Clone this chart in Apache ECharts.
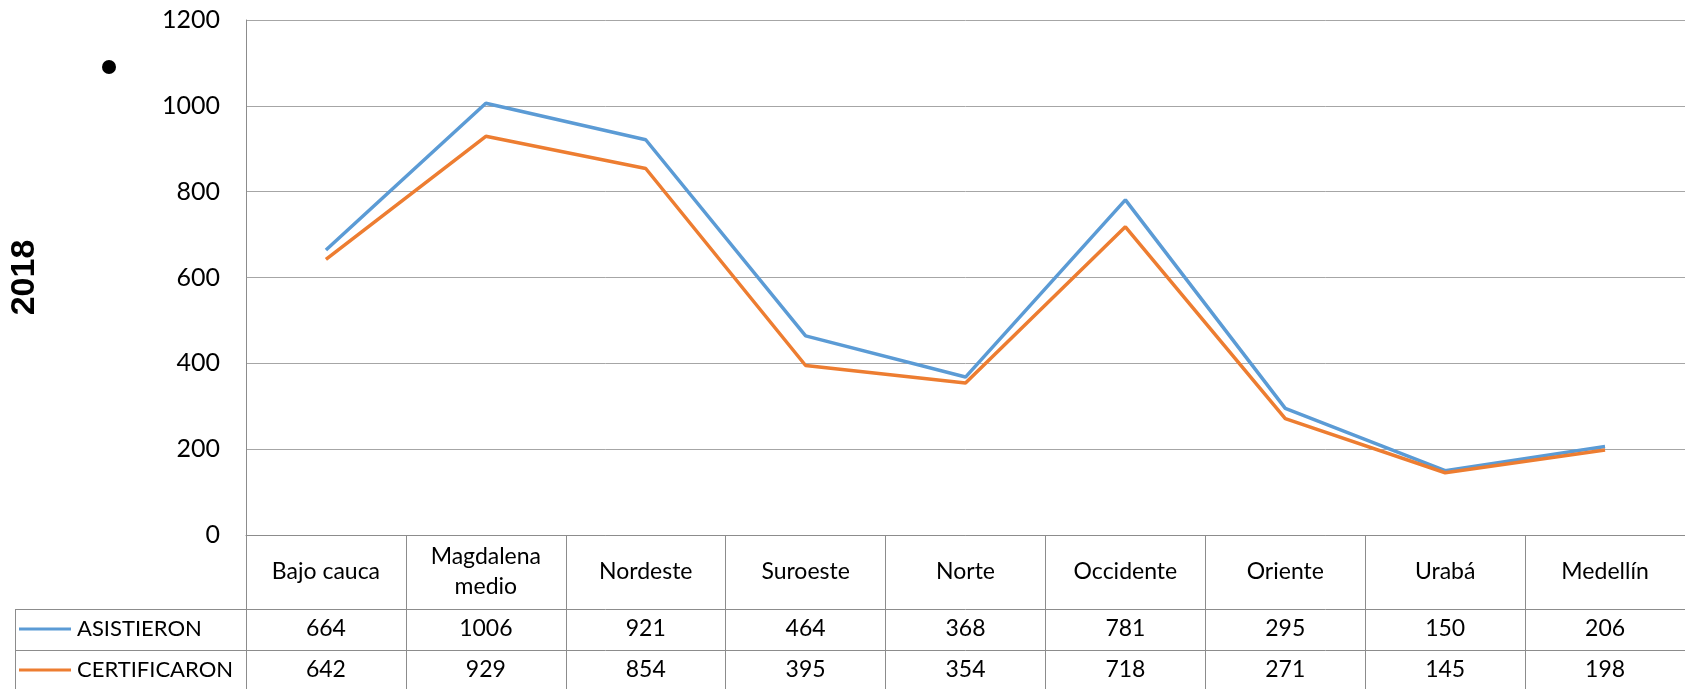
<!DOCTYPE html>
<html>
<head>
    <meta charset="UTF-8">
    <title>2018</title>
    <style type="text/css">
        html, body { margin: 0; padding: 0; background: #fff; }
        #main1 { width: 1685px; height: 689px; }
    </style>
</head>
<body>
<div id="main1"></div>
<script type="text/javascript" src="https://cdn.jsdelivr.net/npm/echarts@6/dist/echarts.min.js"></script>
<script type="text/javascript">
    // datos de la tabla
    var categories = ['Bajo cauca', 'Magdalena\nmedio', 'Nordeste', 'Suroeste', 'Norte', 'Occidente', 'Oriente', 'Urabá', 'Medellín'];
    var asistieron = [664, 1006, 921, 464, 368, 781, 295, 150, 206];
    var certificaron = [642, 929, 854, 395, 354, 718, 271, 145, 198];
    var yMin = 0, yMax = 1200, yStep = 200;

    var gris = '#8c8c8c';
    var fuente = 'Lato';

    var myChart1 = echarts.init(document.getElementById('main1'));
    var option1 = {
        animation: false,
        grid: {left: 246, top: 20, bottom: 154, right: -13},
        legend: [
            {data: ['ASISTIERON'], left: 19, top: 618, padding: 0, icon: 'rect', itemWidth: 52, itemHeight: 3,
                selectedMode: false, textStyle: {fontSize: 22, lineHeight: 22, color: '#000', fontFamily: fuente, padding: [0, 0, 0, 1]}},
            {data: ['CERTIFICARON'], left: 19, top: 659, padding: 0, icon: 'rect', itemWidth: 52, itemHeight: 3,
                selectedMode: false, textStyle: {fontSize: 22, lineHeight: 22, color: '#000', fontFamily: fuente, padding: [0, 0, 0, 1]}}
        ],
        xAxis: [
            {
                type: 'category', data: categories, position: 'bottom',
                axisLine: {lineStyle: {color: gris}},
                axisTick: {show: true, length: 160, lineStyle: {color: gris}},
                axisLabel: {interval: 0, margin: 37, verticalAlign: 'middle', fontSize: 23, lineHeight: 30, color: '#000', fontFamily: fuente}
            },
            {
                type: 'category', data: asistieron.map(String), position: 'bottom', offset: 74,
                axisLine: {lineStyle: {color: gris}},
                axisTick: {show: false},
                axisLabel: {interval: 0, margin: 20, verticalAlign: 'middle', fontSize: 23, color: '#000', fontFamily: fuente}
            },
            {
                type: 'category', data: certificaron.map(String), position: 'bottom', offset: 115,
                axisLine: {lineStyle: {color: gris}},
                axisTick: {show: false},
                axisLabel: {interval: 0, margin: 20, verticalAlign: 'middle', fontSize: 23, color: '#000', fontFamily: fuente}
            }
        ],
        yAxis: {
            type: 'value', min: yMin, max: yMax, interval: yStep,
            name: '2018', nameLocation: 'middle', nameGap: 204, nameRotate: 90,
            nameTextStyle: {fontWeight: 'bold', fontSize: 34, color: '#000', fontFamily: 'Liberation Sans'},
            axisLine: {show: true, lineStyle: {color: gris}},
            axisTick: {show: false},
            splitLine: {lineStyle: {color: '#a6a6a6'}},
            axisLabel: {margin: 26, fontSize: 25, color: '#000', fontFamily: fuente,
                formatter: function (v) { return String(v); }}
        },
        series: [
            {name: 'ASISTIERON', type: 'line', data: asistieron, color: '#5b9bd5', symbol: 'none', lineStyle: {width: 3.5}},
            {name: 'CERTIFICARON', type: 'line', data: certificaron, color: '#ed7d31', symbol: 'none', lineStyle: {width: 3.5}}
        ],
        graphic: [
            {type: 'circle', shape: {cx: 109, cy: 67, r: 7}, style: {fill: '#000'}},
            {type: 'line', shape: {x1: 15, y1: 609.5, x2: 246, y2: 609.5}, style: {stroke: gris, lineWidth: 1}},
            {type: 'line', shape: {x1: 15, y1: 650.5, x2: 246, y2: 650.5}, style: {stroke: gris, lineWidth: 1}},
            {type: 'line', shape: {x1: 15.5, y1: 609, x2: 15.5, y2: 689}, style: {stroke: gris, lineWidth: 1}}
        ]
    };
    myChart1.setOption(option1);
</script>
</body>
</html>
